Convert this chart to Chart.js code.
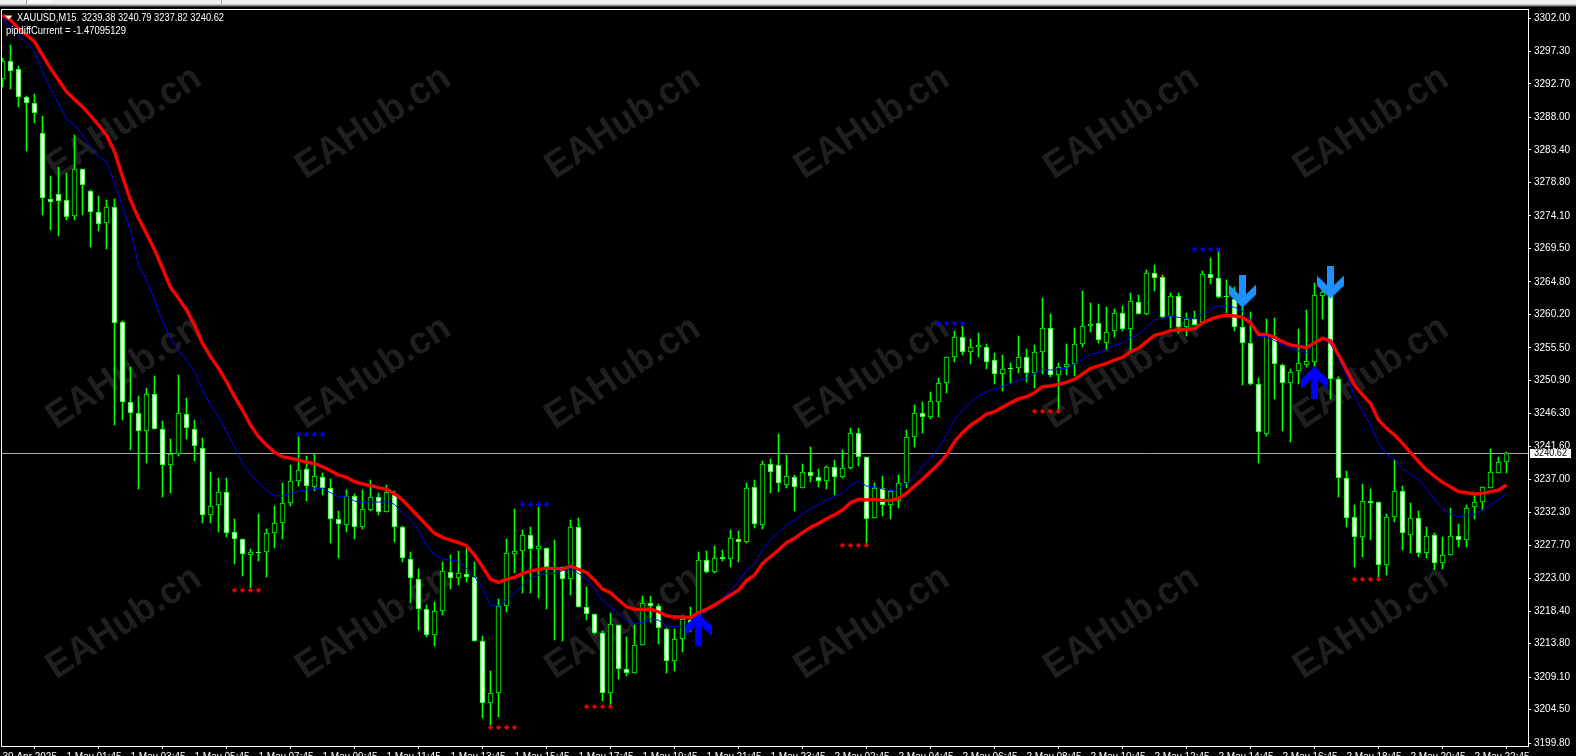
<!DOCTYPE html>
<html>
<head>
<meta charset="utf-8">
<title>XAUUSD,M15</title>
<script src="https://cdn.jsdelivr.net/npm/chart.js@4"></script>
<style>
html,body{margin:0;padding:0;background:#000;overflow:hidden}
canvas{display:block}
</style>
</head>
<body>
<canvas id="c" width="1576" height="756"></canvas>
<script>
const opens = [
3293.35,3295.94,3294.76,3290.82,3289.97,3285.74,3276.53,3277.14,3276.30,3274.13,
3280.67,3277.66,3274.60,3273.15,3275.31,3259.10,3247.92,3246.37,3243.74,3248.95,
3244.11,3238.94,3240.50,3246.23,3244.11,3241.43,3231.89,3233.30,3235.23,3229.49,
3228.50,3226.25,3226.70,3226.67,3229.35,3230.76,3233.58,3236.78,3238.38,3235.84,
3237.34,3235.70,3231.32,3230.48,3234.67,3230.20,3232.64,3234.43,3232.40,3234.76,
3230.20,3225.78,3222.96,3218.64,3215.07,3218.36,3223.95,3223.01,3223.62,3223.15,
3214.13,3205.39,3206.80,3219.15,3226.39,3226.81,3229.07,3227.10,3227.24,3224.45,
3224.56,3222.87,3230.20,3219.01,3217.93,3215.25,3206.80,3216.38,3210.18,3209.61,
3213.66,3219.48,3219.15,3215.91,3211.31,3214.41,3217.20,3216.67,3225.54,3223.95,
3226.00,3225.69,3228.60,3228.18,3235.84,3230.57,3239.08,3239.03,3236.20,3237.34,
3235.70,3237.95,3237.34,3236.68,3238.75,3237.34,3238.52,3243.45,3240.16,3231.47,
3235.79,3233.40,3233.86,3236.40,3242.98,3246.27,3245.71,3247.92,3250.50,3254.17,
3256.99,3254.97,3255.58,3255.67,3253.75,3251.77,3252.65,3252.62,3254.26,3251.91,
3254.87,3258.26,3251.63,3252.85,3253.18,3256.00,3258.63,3259.06,3256.14,3257.83,
3260.47,3258.12,3262.00,3260.23,3266.01,3265.45,3259.81,3262.86,3258.40,3259.53,
3259.20,3265.87,3265.40,3262.85,3262.35,3258.49,3256.14,3250.36,3243.30,3257.22,
3253.14,3250.50,3252.29,3253.14,3253.56,3262.86,3262.86,3251.07,3237.11,3231.61,
3228.79,3233.86,3233.72,3224.94,3231.70,3235.27,3229.16,3231.47,3226.53,3229.07,
3225.22,3226.34,3228.93,3228.37,3233.11,3233.72,3235.79,3237.81,3239.38
];
const highs = [
3296.31,3298.19,3295.23,3291.00,3291.29,3288.18,3279.73,3280.95,3280.10,3285.50,
3280.67,3277.75,3276.90,3276.34,3276.48,3259.29,3252.85,3248.72,3249.80,3251.54,
3245.15,3242.61,3251.63,3248.44,3245.33,3242.75,3238.05,3237.11,3237.11,3231.37,
3228.50,3227.10,3232.08,3229.96,3233.20,3236.41,3239.00,3243.08,3240.26,3240.54,
3237.80,3236.97,3232.50,3235.47,3234.85,3235.50,3236.88,3235.00,3236.17,3235.37,
3230.39,3226.67,3224.32,3219.25,3219.72,3225.36,3226.30,3226.86,3227.24,3225.26,
3214.88,3209.94,3220.05,3228.50,3232.78,3229.82,3230.29,3233.11,3227.24,3228.41,
3224.65,3231.23,3231.56,3221.74,3218.00,3215.63,3218.07,3216.42,3214.78,3216.42,
3220.52,3220.52,3219.40,3215.96,3215.87,3217.84,3219.01,3226.77,3226.86,3227.61,
3227.00,3229.82,3229.68,3236.40,3236.87,3239.55,3239.78,3243.36,3240.40,3237.58,
3239.08,3241.48,3238.38,3238.89,3239.69,3241.10,3244.25,3244.16,3240.16,3236.40,
3237.44,3235.46,3237.58,3243.92,3247.45,3247.82,3249.23,3251.21,3254.20,3257.88,
3258.63,3256.71,3257.55,3256.00,3254.73,3254.50,3253.32,3257.18,3255.30,3255.91,
3262.49,3260.28,3253.30,3256.05,3258.35,3263.52,3261.78,3261.69,3261.22,3260.94,
3261.41,3263.19,3262.96,3266.48,3267.19,3265.78,3263.19,3263.19,3260.47,3260.70,
3266.34,3268.13,3269.30,3265.07,3264.13,3261.30,3260.61,3251.21,3259.57,3259.71,
3253.18,3252.52,3258.16,3260.84,3264.60,3264.04,3263.30,3251.44,3238.14,3233.35,
3236.31,3235.55,3233.77,3232.08,3239.69,3236.00,3233.58,3232.50,3230.20,3229.35,
3228.79,3232.88,3230.67,3233.30,3234.62,3235.90,3241.19,3240.16,3240.79
];
const lows = [
3292.32,3291.99,3289.50,3283.25,3287.24,3274.27,3272.11,3271.27,3273.52,3273.52,
3274.23,3269.76,3272.02,3269.48,3244.63,3245.33,3241.10,3235.65,3239.32,3244.02,
3234.53,3235.09,3240.31,3242.70,3239.60,3230.85,3230.85,3229.54,3228.88,3225.03,
3223.34,3221.60,3225.45,3223.24,3227.33,3228.60,3233.20,3236.03,3233.90,3235.37,
3234.76,3228.04,3225.92,3229.59,3228.50,3230.00,3232.50,3231.90,3232.40,3228.13,
3225.36,3219.48,3215.72,3214.69,3213.52,3217.84,3221.46,3222.07,3222.54,3214.13,
3203.37,3202.33,3203.50,3218.30,3223.71,3220.99,3220.99,3220.28,3218.68,3214.31,
3214.17,3220.66,3219.01,3217.13,3215.16,3205.76,3205.15,3208.82,3209.28,3209.61,
3213.66,3216.90,3213.70,3209.71,3210.00,3212.67,3215.50,3216.20,3223.71,3223.71,
3225.50,3224.56,3225.36,3228.00,3230.15,3230.01,3235.09,3235.23,3235.70,3232.55,
3235.70,3236.64,3235.93,3235.65,3234.76,3237.10,3238.42,3238.89,3227.71,3231.47,
3231.84,3231.33,3232.97,3235.70,3241.57,3243.45,3245.43,3245.80,3249.10,3253.56,
3254.50,3253.23,3254.26,3252.52,3250.41,3249.42,3250.60,3251.91,3250.69,3249.89,
3251.77,3251.35,3246.74,3251.68,3251.54,3255.58,3257.80,3256.24,3255.20,3257.08,
3257.93,3255.20,3260.23,3260.18,3263.57,3259.67,3258.26,3257.55,3257.22,3258.70,
3258.96,3264.50,3262.60,3260.37,3257.93,3250.27,3250.30,3239.30,3243.13,3248.30,
3243.78,3242.28,3250.41,3252.80,3252.85,3259.53,3248.30,3234.52,3230.29,3224.65,
3226.06,3228.41,3222.87,3223.48,3231.00,3227.00,3226.63,3226.06,3225.87,3224.18,
3224.37,3226.34,3227.47,3227.47,3231.33,3232.64,3235.79,3237.81,3237.82
];
const closes = [
3295.94,3294.58,3290.82,3289.97,3288.65,3276.58,3276.01,3276.15,3274.00,3280.67,
3278.41,3274.60,3272.90,3275.31,3258.96,3247.92,3246.37,3243.83,3248.95,3244.11,
3238.94,3240.54,3246.37,3244.16,3241.62,3231.89,3233.20,3235.23,3229.44,3228.50,
3226.39,3226.67,3226.67,3229.35,3230.76,3233.58,3236.69,3238.24,3236.03,3237.39,
3235.70,3231.32,3230.62,3234.62,3230.20,3232.73,3234.43,3232.40,3235.14,3230.20,
3225.83,3223.01,3218.64,3215.07,3218.36,3223.99,3223.01,3223.71,3223.15,3214.22,
3205.39,3206.80,3219.15,3226.53,3226.81,3229.07,3227.10,3227.52,3224.65,3224.40,
3222.87,3230.20,3219.01,3217.93,3215.25,3206.80,3216.52,3210.18,3209.61,3213.66,
3219.48,3219.15,3215.96,3211.31,3214.41,3217.23,3216.70,3225.59,3223.95,3225.83,
3225.80,3228.65,3228.18,3235.70,3230.62,3239.08,3237.95,3236.40,3237.39,3235.84,
3237.95,3237.39,3236.68,3238.75,3237.25,3238.52,3243.45,3240.16,3231.37,3235.79,
3233.30,3235.30,3236.40,3242.98,3246.27,3245.71,3247.97,3250.50,3254.17,3256.99,
3254.97,3255.58,3255.86,3253.56,3251.77,3252.57,3252.62,3254.26,3251.91,3254.87,
3258.26,3251.68,3252.85,3253.18,3256.00,3258.63,3258.92,3256.57,3257.69,3260.47,
3258.12,3262.06,3260.28,3266.01,3265.30,3259.81,3262.86,3258.40,3259.53,3258.73,
3265.87,3265.40,3262.72,3262.82,3258.49,3256.14,3250.36,3243.60,3257.30,3253.18,
3250.50,3252.15,3253.32,3253.60,3262.91,3263.33,3251.07,3237.11,3231.47,3228.79,
3233.86,3233.58,3224.84,3231.61,3235.27,3229.35,3231.47,3226.53,3228.93,3225.12,
3226.34,3228.93,3228.37,3232.97,3233.72,3235.84,3237.95,3239.36,3240.62
];
const redMA = [
3302.42,3301.72,3300.54,3299.60,3298.66,3296.78,3294.90,3293.26,3291.61,3290.53,
3289.50,3288.23,3286.92,3285.50,3283.16,3279.63,3276.34,3273.76,3271.64,3269.35,
3266.72,3264.04,3262.49,3260.84,3258.73,3256.14,3254.26,3252.62,3250.74,3248.62,
3246.74,3244.63,3242.98,3241.81,3240.78,3240.17,3239.93,3239.69,3239.41,3239.20,
3238.75,3238.19,3237.58,3237.25,3236.64,3236.31,3236.08,3235.79,3235.56,3234.95,
3234.05,3232.88,3231.70,3230.53,3229.35,3228.79,3228.41,3228.04,3227.61,3226.30,
3224.65,3222.87,3222.44,3222.87,3223.15,3223.71,3224.04,3224.28,3224.42,3224.42,
3224.32,3224.75,3224.28,3223.85,3222.77,3221.50,3220.99,3219.95,3219.01,3218.64,
3218.64,3218.68,3218.31,3217.74,3217.56,3217.56,3217.46,3218.21,3218.64,3219.25,
3219.95,3220.66,3221.36,3222.70,3223.48,3225.12,3226.06,3227.00,3228.04,3228.65,
3229.45,3230.20,3230.76,3231.42,3231.98,3232.64,3233.68,3234.15,3234.05,3234.15,
3234.00,3234.00,3234.29,3235.00,3236.03,3236.97,3238.05,3239.13,3240.40,3242.28,
3243.55,3244.60,3245.33,3246.18,3246.51,3247.12,3247.75,3248.30,3248.62,3249.19,
3250.03,3250.13,3250.36,3250.64,3251.07,3251.82,3252.62,3252.95,3253.32,3253.79,
3254.17,3254.97,3255.44,3256.38,3257.27,3257.55,3257.93,3258.02,3258.12,3258.21,
3259.06,3259.53,3259.90,3260.09,3260.00,3259.81,3259.06,3257.41,3257.41,3256.99,
3256.38,3255.91,3255.72,3255.53,3256.24,3256.85,3256.52,3254.50,3252.38,3250.27,
3248.86,3247.68,3245.33,3244.16,3243.22,3242.05,3240.73,3239.46,3238.29,3237.40,
3236.54,3235.93,3235.23,3235.08,3234.90,3234.99,3235.23,3235.46,3236.17
];
const blueMA = [
3302.10,3300.54,3299.60,3298.43,3297.25,3294.43,3292.08,3289.97,3287.76,3286.92,
3285.50,3283.86,3282.45,3281.75,3278.69,3275.40,3272.11,3267.19,3265.07,3262.25,
3259.20,3256.85,3255.20,3253.79,3252.15,3249.56,3247.45,3245.80,3243.69,3241.57,
3239.23,3237.72,3236.41,3235.37,3234.67,3234.62,3235.00,3235.28,3235.51,3235.65,
3235.70,3235.09,3234.43,3234.62,3233.90,3233.72,3233.82,3233.77,3233.84,3233.45,
3232.17,3231.32,3229.82,3227.71,3226.30,3225.73,3225.59,3225.36,3224.42,3223.24,
3221.60,3219.25,3219.11,3219.95,3220.89,3222.07,3223.01,3223.48,3223.71,3223.71,
3224.09,3224.42,3223.71,3222.91,3221.60,3219.86,3219.01,3218.07,3217.04,3216.57,
3216.80,3217.23,3217.13,3216.33,3216.19,3216.19,3216.90,3217.84,3218.31,3219.11,
3220.19,3221.27,3222.54,3224.18,3225.05,3227.00,3228.51,3229.45,3230.53,3231.23,
3232.08,3232.78,3233.35,3234.05,3234.52,3234.99,3236.17,3236.73,3236.03,3235.93,
3235.60,3235.37,3235.56,3236.40,3237.34,3238.75,3239.93,3241.34,3243.22,3245.33,
3246.70,3247.80,3248.76,3249.37,3249.70,3250.03,3250.50,3250.97,3251.21,3251.91,
3252.48,3252.38,3252.52,3252.62,3253.18,3253.93,3254.59,3254.83,3255.20,3255.91,
3256.14,3256.99,3257.32,3258.49,3259.43,3259.67,3260.00,3259.81,3259.71,3259.67,
3260.37,3261.08,3261.41,3261.41,3261.22,3260.70,3259.53,3257.08,3257.08,3256.52,
3255.91,3255.53,3255.11,3254.83,3256.05,3256.85,3256.05,3254.03,3251.68,3248.76,
3246.51,3244.63,3242.05,3240.54,3239.79,3238.52,3237.60,3236.96,3235.70,3234.15,
3232.88,3232.08,3231.70,3231.89,3232.08,3232.64,3233.35,3234.15,3234.90
];
const redDotIdx = [29,30,31,32, 61,62,63,64, 73,74,75,76, 105,106,107,108, 129,130,131,132, 169,170,171,172];
const redDotVal = [3221.32,3221.32,3221.32,3221.32, 3202.0,3202.0,3202.0,3202.0, 3204.91,3204.91,3204.91,3204.91, 3227.66,3227.66,3227.66,3227.66, 3246.56,3246.56,3246.56,3246.56, 3222.87,3222.87,3222.87,3222.87];
const blueDotIdx = [37,38,39,40, 65,66,67,68, 117,118,119,120, 149,150,151,152];
const blueDotVal = [3243.31,3243.31,3243.31,3243.31, 3233.44,3233.44,3233.44,3233.44, 3258.96,3258.96,3258.96,3258.96, 3269.39,3269.39,3269.39,3269.39];
const buyArrowIdx = [87,164];
const buyArrowVal = [3215.77,3250.57];
const sellArrowIdx = [155,166];
const sellArrowVal = [3263.5,3264.77];
const priceTicks = [3302.00,3297.30,3292.70,3288.00,3283.40,3278.80,3274.10,3269.50,3264.80,3260.20,3255.50,3250.90,3246.30,3241.60,3237.00,3232.30,3227.70,3223.00,3218.40,3213.80,3209.10,3204.50,3199.80];
const timeTickIdx = [0,8,16,24,32,40,48,56,64,72,80,88,96,104,112,120,128,136,144,152,160,168,176,184];
const timeTickLabels = ["30 Apr 2025","1 May 01:45","1 May 03:45","1 May 05:45","1 May 07:45","1 May 09:45","1 May 11:45","1 May 13:45","1 May 15:45","1 May 17:45","1 May 19:45","1 May 21:45","1 May 23:45","2 May 02:45","2 May 04:45","2 May 06:45","2 May 08:45","2 May 10:45","2 May 12:45","2 May 14:45","2 May 16:45","2 May 18:45","2 May 20:45","2 May 22:45"];
const headerText = "XAUUSD,M15  3239.38 3240.79 3237.82 3240.62";
const indicatorText = "pipdiffCurrent = -1.47095129";
const watermark = "EAHub.cn";

const FONT = '"Liberation Sans", Arial, sans-serif';
const BULL = '#000000', BEAR = '#ffffff', EDGE = '#00ff00';

function arrowImage(color, up) {
  const w = 27, h = 33, cv = document.createElement('canvas');
  cv.width = w; cv.height = h;
  const g = cv.getContext('2d');
  if (!up) { g.translate(0, h); g.scale(1, -1); }
  g.fillStyle = color;
  g.beginPath();
  g.moveTo(13.5, 0); g.lineTo(27, 13); g.lineTo(27, 23); g.lineTo(17, 13.5);
  g.lineTo(17, 33); g.lineTo(10, 33); g.lineTo(10, 13.5); g.lineTo(0, 23); g.lineTo(0, 13);
  g.closePath(); g.fill();
  return cv;
}

const snapBars = {
  id: 'snapBars',
  afterDatasetsUpdate(chart) {
    chart.data.datasets.forEach((d, n) => {
      if (d.type !== 'bar') return;
      chart.getDatasetMeta(n).data.forEach(el => {
        el.y = Math.round(el.y); el.base = Math.round(el.base);
        if (el.y === el.base) el.base = el.y + 1;
      });
    });
  }
};

const furniture = {
  id: 'furniture',
  beforeDatasetsDraw(chart) {
    const c = chart.ctx, a = chart.chartArea, y = chart.scales.y;
    c.save();
    // watermark
    c.fillStyle = '#1f1f1f';
    c.font = 'bold 38px ' + FONT;
    c.textAlign = 'center'; c.textBaseline = 'middle';
    for (let r = 0; r < 3; r++) for (let k = 0; k < 6; k++) {
      c.save();
      c.translate(124 + 249.4 * k, 123 + 250 * r);
      c.rotate(-33 * Math.PI / 180);
      c.fillText(watermark, 0, 0, 176);
      c.restore();
    }
    // current price line
    const py = Math.floor(y.getPixelForValue(closes[closes.length - 1])) + 0.5;
    c.strokeStyle = '#a6a6a6'; c.lineWidth = 1;
    c.beginPath(); c.moveTo(a.left, py); c.lineTo(a.right, py); c.stroke();
    c.restore();
  },
  afterDraw(chart) {
    const c = chart.ctx, a = chart.chartArea, y = chart.scales.y;
    c.save();
    // window strip above the chart
    c.fillStyle = '#f0f0f0'; c.fillRect(0, 0, 1576, 4);
    c.fillStyle = '#fbfbfb'; c.fillRect(27, 0, 25, 3);
    c.fillStyle = '#a0a0a0'; c.fillRect(26, 0, 1, 4); c.fillRect(221, 0, 1, 5);
    c.fillStyle = '#c8c8c8'; c.fillRect(0, 4, 1576, 1);
    c.fillStyle = '#8a8a8a'; c.fillRect(0, 5, 1576, 1);
    c.fillStyle = '#3c3c3c'; c.fillRect(0, 6, 1576, 1);
    // frame
    c.strokeStyle = '#ffffff'; c.lineWidth = 1;
    c.strokeRect(1.5, 9.5, a.right - 1, a.bottom - 9);
    // header texts
    c.fillStyle = '#ffffff';
    c.beginPath(); c.moveTo(5, 15.5); c.lineTo(12.5, 15.5); c.lineTo(8.75, 19.5); c.closePath(); c.fill();
    c.font = '10.9px ' + FONT;
    c.textAlign = 'left'; c.textBaseline = 'middle';
    c.fillText(headerText, 17, 17.5, 207);
    c.fillText(indicatorText, 6, 31, 120);
    // current price box
    const py = Math.floor(y.getPixelForValue(closes[closes.length - 1]));
    c.fillStyle = '#ffffff'; c.fillRect(1530, py - 4, 41, 9);
    c.fillStyle = '#000000'; c.font = '10.5px ' + FONT;
    c.fillText(closes[closes.length - 1].toFixed(2), 1534, py + 0.5, 33);
    c.restore();
  }
};

const xyz = (idx, val) => idx.map((x, k) => ({ x, y: val[k] }));
const allIdx = closes.map((_, i) => i);

new Chart(document.getElementById('c'), {
  type: 'bar',
  data: {
    datasets: [
      { type: 'bar', order: 9, grouped: false, barThickness: 1, backgroundColor: EDGE, borderWidth: 0,
        data: allIdx.map(i => ({ x: i, y: [lows[i], highs[i]] })) },
      { type: 'bar', order: 8, grouped: false, barThickness: 5, borderWidth: 1, borderSkipped: false, borderColor: EDGE,
        backgroundColor: allIdx.map(i => closes[i] < opens[i] ? BEAR : BULL),
        data: allIdx.map(i => ({ x: i, y: [opens[i], closes[i]] })) },
      { type: 'line', order: 7, borderColor: '#0000ff', borderWidth: 1, pointRadius: 0, tension: 0, data: xyz(allIdx, blueMA) },
      { type: 'line', order: 5, showLine: false, pointStyle: arrowImage('#1e90ff', false), pointRadius: 10, data: xyz(sellArrowIdx, sellArrowVal) },
      { type: 'line', order: 5, showLine: false, pointStyle: arrowImage('#0000ff', true), pointRadius: 10, data: xyz(buyArrowIdx, buyArrowVal) },
      { type: 'line', order: 4, borderColor: '#ff0000', borderWidth: 3.4, pointRadius: 0, tension: 0, data: xyz(allIdx, redMA) },
      { type: 'line', order: 3, showLine: false, pointStyle: 'rectRot', pointRadius: 2.6, pointBorderWidth: 0, backgroundColor: '#ee0000', data: xyz(redDotIdx, redDotVal) },
      { type: 'line', order: 3, showLine: false, pointStyle: 'rectRot', pointRadius: 2.6, pointBorderWidth: 0, backgroundColor: '#0000ee', data: xyz(blueDotIdx, blueDotVal) }
    ]
  },
  plugins: [snapBars, furniture],
  options: {
    responsive: false,
    animation: false,
    events: [],
    layout: { autoPadding: false, padding: { left: 2, top: 10, right: 0, bottom: 0 } },
    plugins: { legend: { display: false }, tooltip: { enabled: false }, title: { display: false } },
    scales: {
      x: {
        type: 'linear', offset: false, min: -0.0625, max: 190.6875,
        border: { display: false },
        grid: { display: true, drawOnChartArea: false, drawTicks: true, tickLength: 3, tickColor: '#ffffff', color: '#ffffff' },
        afterBuildTicks(s) { s.ticks = timeTickIdx.map(v => ({ value: v })); },
        afterFit(s) { s.height = 10; s.paddingLeft = 0; s.paddingRight = 0; s.paddingTop = 0; s.paddingBottom = 0; },
        ticks: {
          autoSkip: false, maxRotation: 0, minRotation: 0, align: 'start', padding: 2,
          color: '#ffffff', font: { family: FONT, size: 10 },
          callback(v) { return timeTickLabels[timeTickIdx.indexOf(v)]; }
        }
      },
      y: {
        type: 'linear', position: 'right', min: 3199.38, max: 3303.13,
        border: { display: false },
        grid: { display: true, drawOnChartArea: false, drawTicks: true, tickLength: 3, tickColor: '#ffffff', color: '#ffffff' },
        afterBuildTicks(s) { s.ticks = priceTicks.map(v => ({ value: v })); },
        afterFit(s) { s.width = 48; s.paddingLeft = 0; s.paddingRight = 0; s.paddingTop = 0; s.paddingBottom = 0; },
        ticks: {
          autoSkip: false, padding: 3, color: '#ffffff', font: { family: FONT, size: 10 },
          callback(v) { return v.toFixed(2); }
        }
      }
    }
  }
});
</script>
</body>
</html>
